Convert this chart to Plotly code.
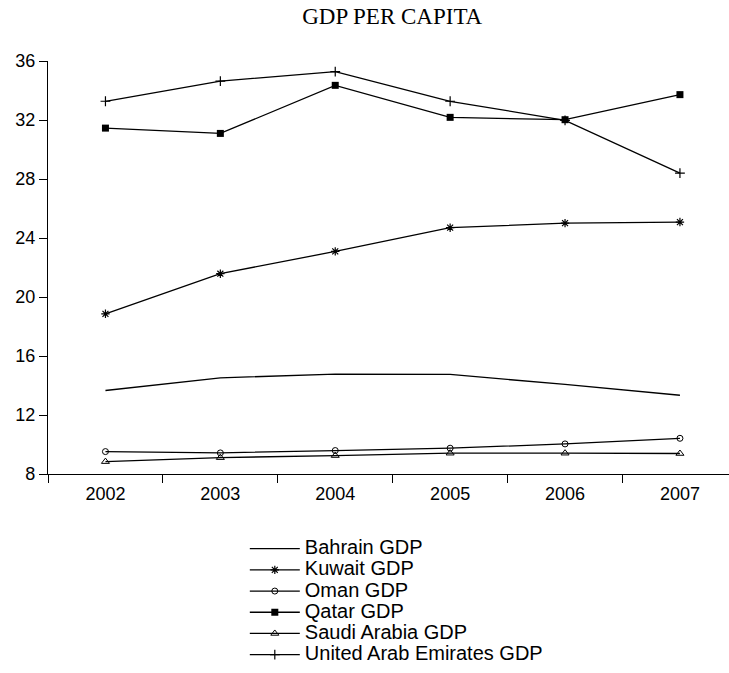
import plotly.graph_objects as go

# GDP per capita (thousands), Gulf states, 2002-2007
years = ["2002", "2003", "2004", "2005", "2006", "2007"]
bahrain = [13.66, 14.52, 14.77, 14.75, 14.07, 13.34]
kuwait = [18.86, 21.58, 23.09, 24.70, 25.01, 25.08]
oman = [9.52, 9.43, 9.59, 9.75, 10.04, 10.42]
qatar = [31.45, 31.09, 34.35, 32.18, 32.02, 33.72]
saudi = [8.84, 9.11, 9.25, 9.41, 9.41, 9.39]
uae = [33.27, 34.64, 35.28, 33.27, 31.98, 28.40]

y_ticks = [8, 12, 16, 20, 24, 28, 32, 36]

series = [
    ("Bahrain GDP", bahrain, None, 0, 0),
    ("Kuwait GDP", kuwait, "asterisk-open", 7, 1.2),
    ("Oman GDP", oman, "circle-open", 6, 1),
    ("Qatar GDP", qatar, "square", 7, 0),
    ("Saudi Arabia GDP", saudi, "triangle-up-open", 7, 1),
    ("United Arab Emirates GDP", uae, "cross-thin-open", 7, 1.2),
]

fig = go.Figure()
for name, vals, sym, size, mlw in series:
    kw = dict(mode="lines")
    if sym:
        kw = dict(
            mode="lines+markers",
            marker=dict(symbol=sym, size=size, color="black",
                        line=dict(color="black", width=mlw)),
        )
    fig.add_trace(go.Scatter(
        x=years, y=vals,
        name=f"<span style='font-size:20px'>{name}</span>",
        line=dict(color="black", width=1.3), **kw))

fig.update_layout(
    width=729, height=673,
    margin=dict(l=48, r=0, t=61, b=199),
    paper_bgcolor="white", plot_bgcolor="white",
    title=dict(text="GDP PER CAPITA", x=0.538, xanchor="center",
               y=0.989, yanchor="top",
               font=dict(family="Liberation Serif", size=23, color="black")),
    font=dict(family="Liberation Sans", size=18, color="black"),
    showlegend=True,
    legend=dict(orientation="v", x=0.289, xanchor="left", y=-0.143, yanchor="top",
                font=dict(family="Liberation Sans", size=14, color="black"),
                tracegroupgap=0, itemwidth=50, bgcolor="rgba(0,0,0,0)"),
)

fig.update_xaxes(
    type="category", range=[-0.5, 5.427],
    showline=True, linecolor="black", linewidth=1.3,
    ticks="outside", tickson="boundaries", ticklen=8, tickcolor="black",
    ticklabelstandoff=3,
    showgrid=False, zeroline=False,
)
fig.update_yaxes(
    range=[8, 36], tickvals=y_ticks,
    showline=True, linecolor="black", linewidth=1.3,
    ticks="outside", ticklen=8, tickcolor="black",
    showgrid=False, zeroline=False,
)

fig.write_html("out.html")
